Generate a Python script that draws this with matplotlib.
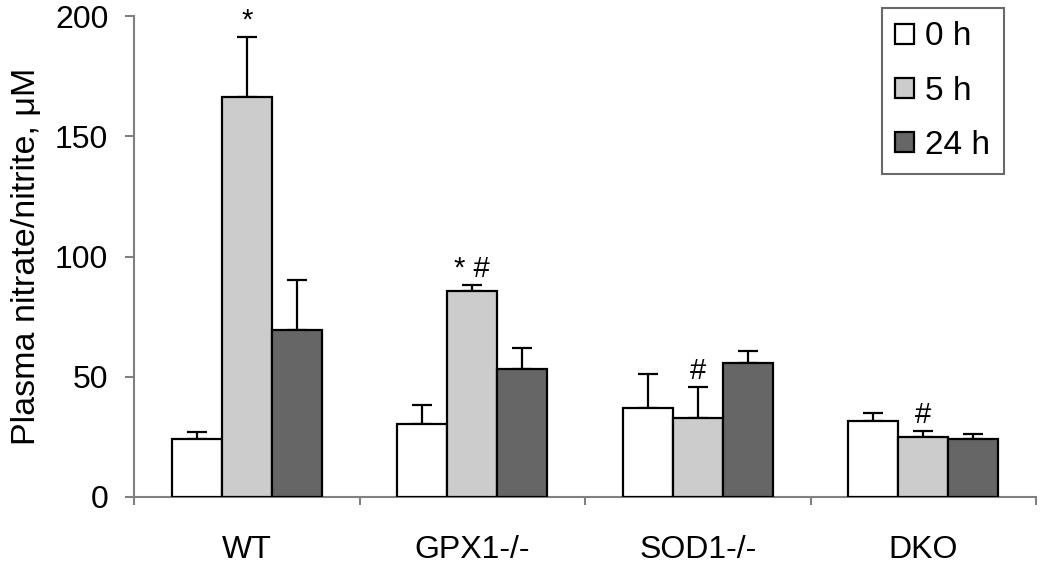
import matplotlib.pyplot as plt
import numpy as np

plt.rcParams['font.family'] = ['Liberation Sans', 'DejaVu Sans']

# data
groups = ['WT', 'GPX1-/-', 'SOD1-/-', 'DKO']
times = ['0 h', '5 h', '24 h']
means_0h = [24.1, 30.5, 36.9, 31.7]
means_5h = [166.3, 85.7, 32.7, 25.1]
means_24h = [69.4, 53.2, 55.6, 24.0]
err_0h = [2.9, 7.6, 14.1, 3.1]
err_5h = [25.0, 2.3, 12.9, 2.2]
err_24h = [20.8, 8.6, 5.2, 2.1]
marks_5h = ['*', '* #', '#', '#']

colors = ['#ffffff', '#cccccc', '#666666']
axis_gray = '#808080'

fig = plt.figure(figsize=(10.5, 5.67), dpi=100)
ax = fig.add_axes([134/1050, 1-497/567, (1036-134)/1050, (497-16)/567])

x = np.arange(len(groups))
w = 0.222
series = [(means_0h, err_0h), (means_5h, err_5h), (means_24h, err_24h)]
for i, (m, e) in enumerate(series):
    pos = x + (i - 1) * w
    ax.bar(pos, m, width=w, color=colors[i], edgecolor='black', linewidth=1.6,
           label=times[i], zorder=3)
    ax.errorbar(pos, m, yerr=[np.zeros(len(e)), e], fmt='none', ecolor='black',
                elinewidth=1.6, capsize=7.5, capthick=1.6, zorder=2)

# significance marks over the 5 h bars
for xi, m, e, s in zip(x, means_5h, err_5h, marks_5h):
    ax.annotate(s, (xi, m + e), xytext=(0, 2), textcoords='offset points',
                ha='center', va='bottom', fontsize=21)

ax.set_xlim(-0.5, 3.5)
ax.set_ylim(0, 200)
ax.set_yticks([0, 50, 100, 150, 200])
ax.set_xticks(x)
ax.set_xticklabels(groups)
ax.set_xticks(np.arange(-0.5, 3.6, 1), minor=True)
ax.tick_params(axis='x', which='major', length=0, pad=27, labelsize=23)
ax.tick_params(axis='x', which='minor', length=6, width=1.5, color=axis_gray)
ax.tick_params(axis='y', length=6.5, width=1.5, color=axis_gray, pad=12, labelsize=23)

for side in ['top', 'right']:
    ax.spines[side].set_visible(False)
for side in ['left', 'bottom']:
    ax.spines[side].set_color(axis_gray)
    ax.spines[side].set_linewidth(1.5)

ax.set_ylabel('Plasma nitrate/nitrite, μM', fontsize=24.5, labelpad=9)

leg = fig.legend(loc='upper left', bbox_to_anchor=(882/1050, 1-8/567),
                 fontsize=24, frameon=True, fancybox=False, handlelength=0.55,
                 handleheight=0.55, handletextpad=0.35, labelspacing=0.7,
                 borderpad=0.4, borderaxespad=0)
leg.get_frame().set_edgecolor('#444444')
leg.get_frame().set_linewidth(1.5)

fig.savefig('out.png', dpi=100)
